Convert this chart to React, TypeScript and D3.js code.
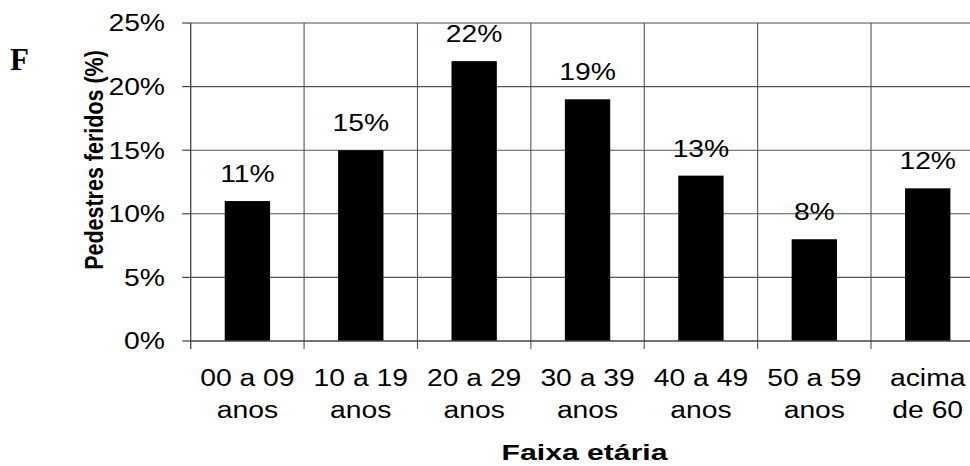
import React from "react";
import * as d3 from "d3";

const categoriesLine1 = ["00 a 09", "10 a 19", "20 a 29", "30 a 39", "40 a 49", "50 a 59", "acima"];
const categoriesLine2 = ["anos", "anos", "anos", "anos", "anos", "anos", "de 60"];
const values = [11, 15, 22, 19, 13, 8, 12];
const yTicks = [0, 5, 10, 15, 20, 25];
const yTitle = "Pedestres feridos (%)";
const xTitle = "Faixa etária";

const W = 970;
const H = 466;
const left = 190.7;
const right = 984.4;
const top = 23;
const bottom = 341;
const SX = 1.23;
const FONT = "'Liberation Sans', Arial, sans-serif";

export default function App() {
  const x = d3.scaleBand<number>().domain(d3.range(values.length)).range([left, right]).paddingInner(0).paddingOuter(0);
  const y = d3.scaleLinear().domain([0, 25]).range([bottom, top]);
  const bw = x.bandwidth();
  const barW = bw * 0.4;
  const boundaries = d3.range(values.length + 1).map((i) => left + i * bw);
  const gridColor = "#555";

  return (
    <svg width={W} height={H} style={{ position: "absolute", left: 0, top: 0, background: "#fff" }}>
      <rect x={0} y={0} width={W} height={H} fill="#fff" />
      <text x={10} y={70} fontFamily="'Liberation Serif', 'Times New Roman', serif" fontWeight="bold" fontSize={31} fill="#000">F</text>
      {/* horizontal gridlines */}
      {yTicks.slice(1).map((t) => (
        <line key={"h" + t} x1={left} x2={right} y1={y(t)} y2={y(t)} stroke={t === 25 ? "#888" : gridColor} strokeWidth={t === 25 ? 1.6 : 1.1} />
      ))}
      {/* vertical gridlines */}
      {boundaries.slice(1).map((b, i) => (
        <line key={"v" + i} x1={b} x2={b} y1={top} y2={bottom + 8} stroke={gridColor} strokeWidth={1.1} />
      ))}
      {/* bars */}
      {values.map((v, i) => (
        <rect key={"b" + i} x={(x(i) as number) + (bw - barW) / 2} y={y(v)} width={barW} height={bottom - y(v)} fill="#000" />
      ))}
      {/* axes */}
      <line x1={left} x2={left} y1={top} y2={bottom + 8} stroke="#444" strokeWidth={1.3} />
      <line x1={left} x2={right} y1={bottom} y2={bottom} stroke="#444" strokeWidth={1.3} />
      {yTicks.map((t) => (
        <line key={"yt" + t} x1={left - 8.5} x2={left} y1={y(t)} y2={y(t)} stroke="#444" strokeWidth={1.2} />
      ))}
      {/* y tick labels */}
      {yTicks.map((t) => (
        <text key={"yl" + t} transform={`translate(165,${y(t) + 8.3}) scale(${SX},1)`} textAnchor="end" fontFamily={FONT} fontSize={23} fill="#000">
          {t + "%"}
        </text>
      ))}
      {/* data labels */}
      {values.map((v, i) => (
        <text key={"dl" + i} transform={`translate(${(x(i) as number) + bw / 2},${y(v) - 19}) scale(${SX},1)`} textAnchor="middle" fontFamily={FONT} fontSize={23} fill="#000">
          {v + "%"}
        </text>
      ))}
      {/* category labels */}
      {values.map((_, i) => (
        <g key={"cl" + i}>
          <text transform={`translate(${(x(i) as number) + bw / 2},386) scale(${SX},1)`} textAnchor="middle" fontFamily={FONT} fontSize={23} fill="#000">
            {categoriesLine1[i]}
          </text>
          <text transform={`translate(${(x(i) as number) + bw / 2},418) scale(${SX},1)`} textAnchor="middle" fontFamily={FONT} fontSize={23} fill="#000">
            {categoriesLine2[i]}
          </text>
        </g>
      ))}
      {/* axis titles */}
      <text transform={`translate(${(left + right) / 2 - 3},460) scale(1.34,1)`} textAnchor="middle" fontFamily={FONT} fontWeight="bold" fontSize={22.5} fill="#000">
        {xTitle}
      </text>
      <text transform={`translate(103,160) scale(1.22,1) rotate(-90)`} textAnchor="middle" fontFamily={FONT} fontWeight="bold" fontSize={21.5} fill="#000">
        {yTitle}
      </text>
    </svg>
  );
}
